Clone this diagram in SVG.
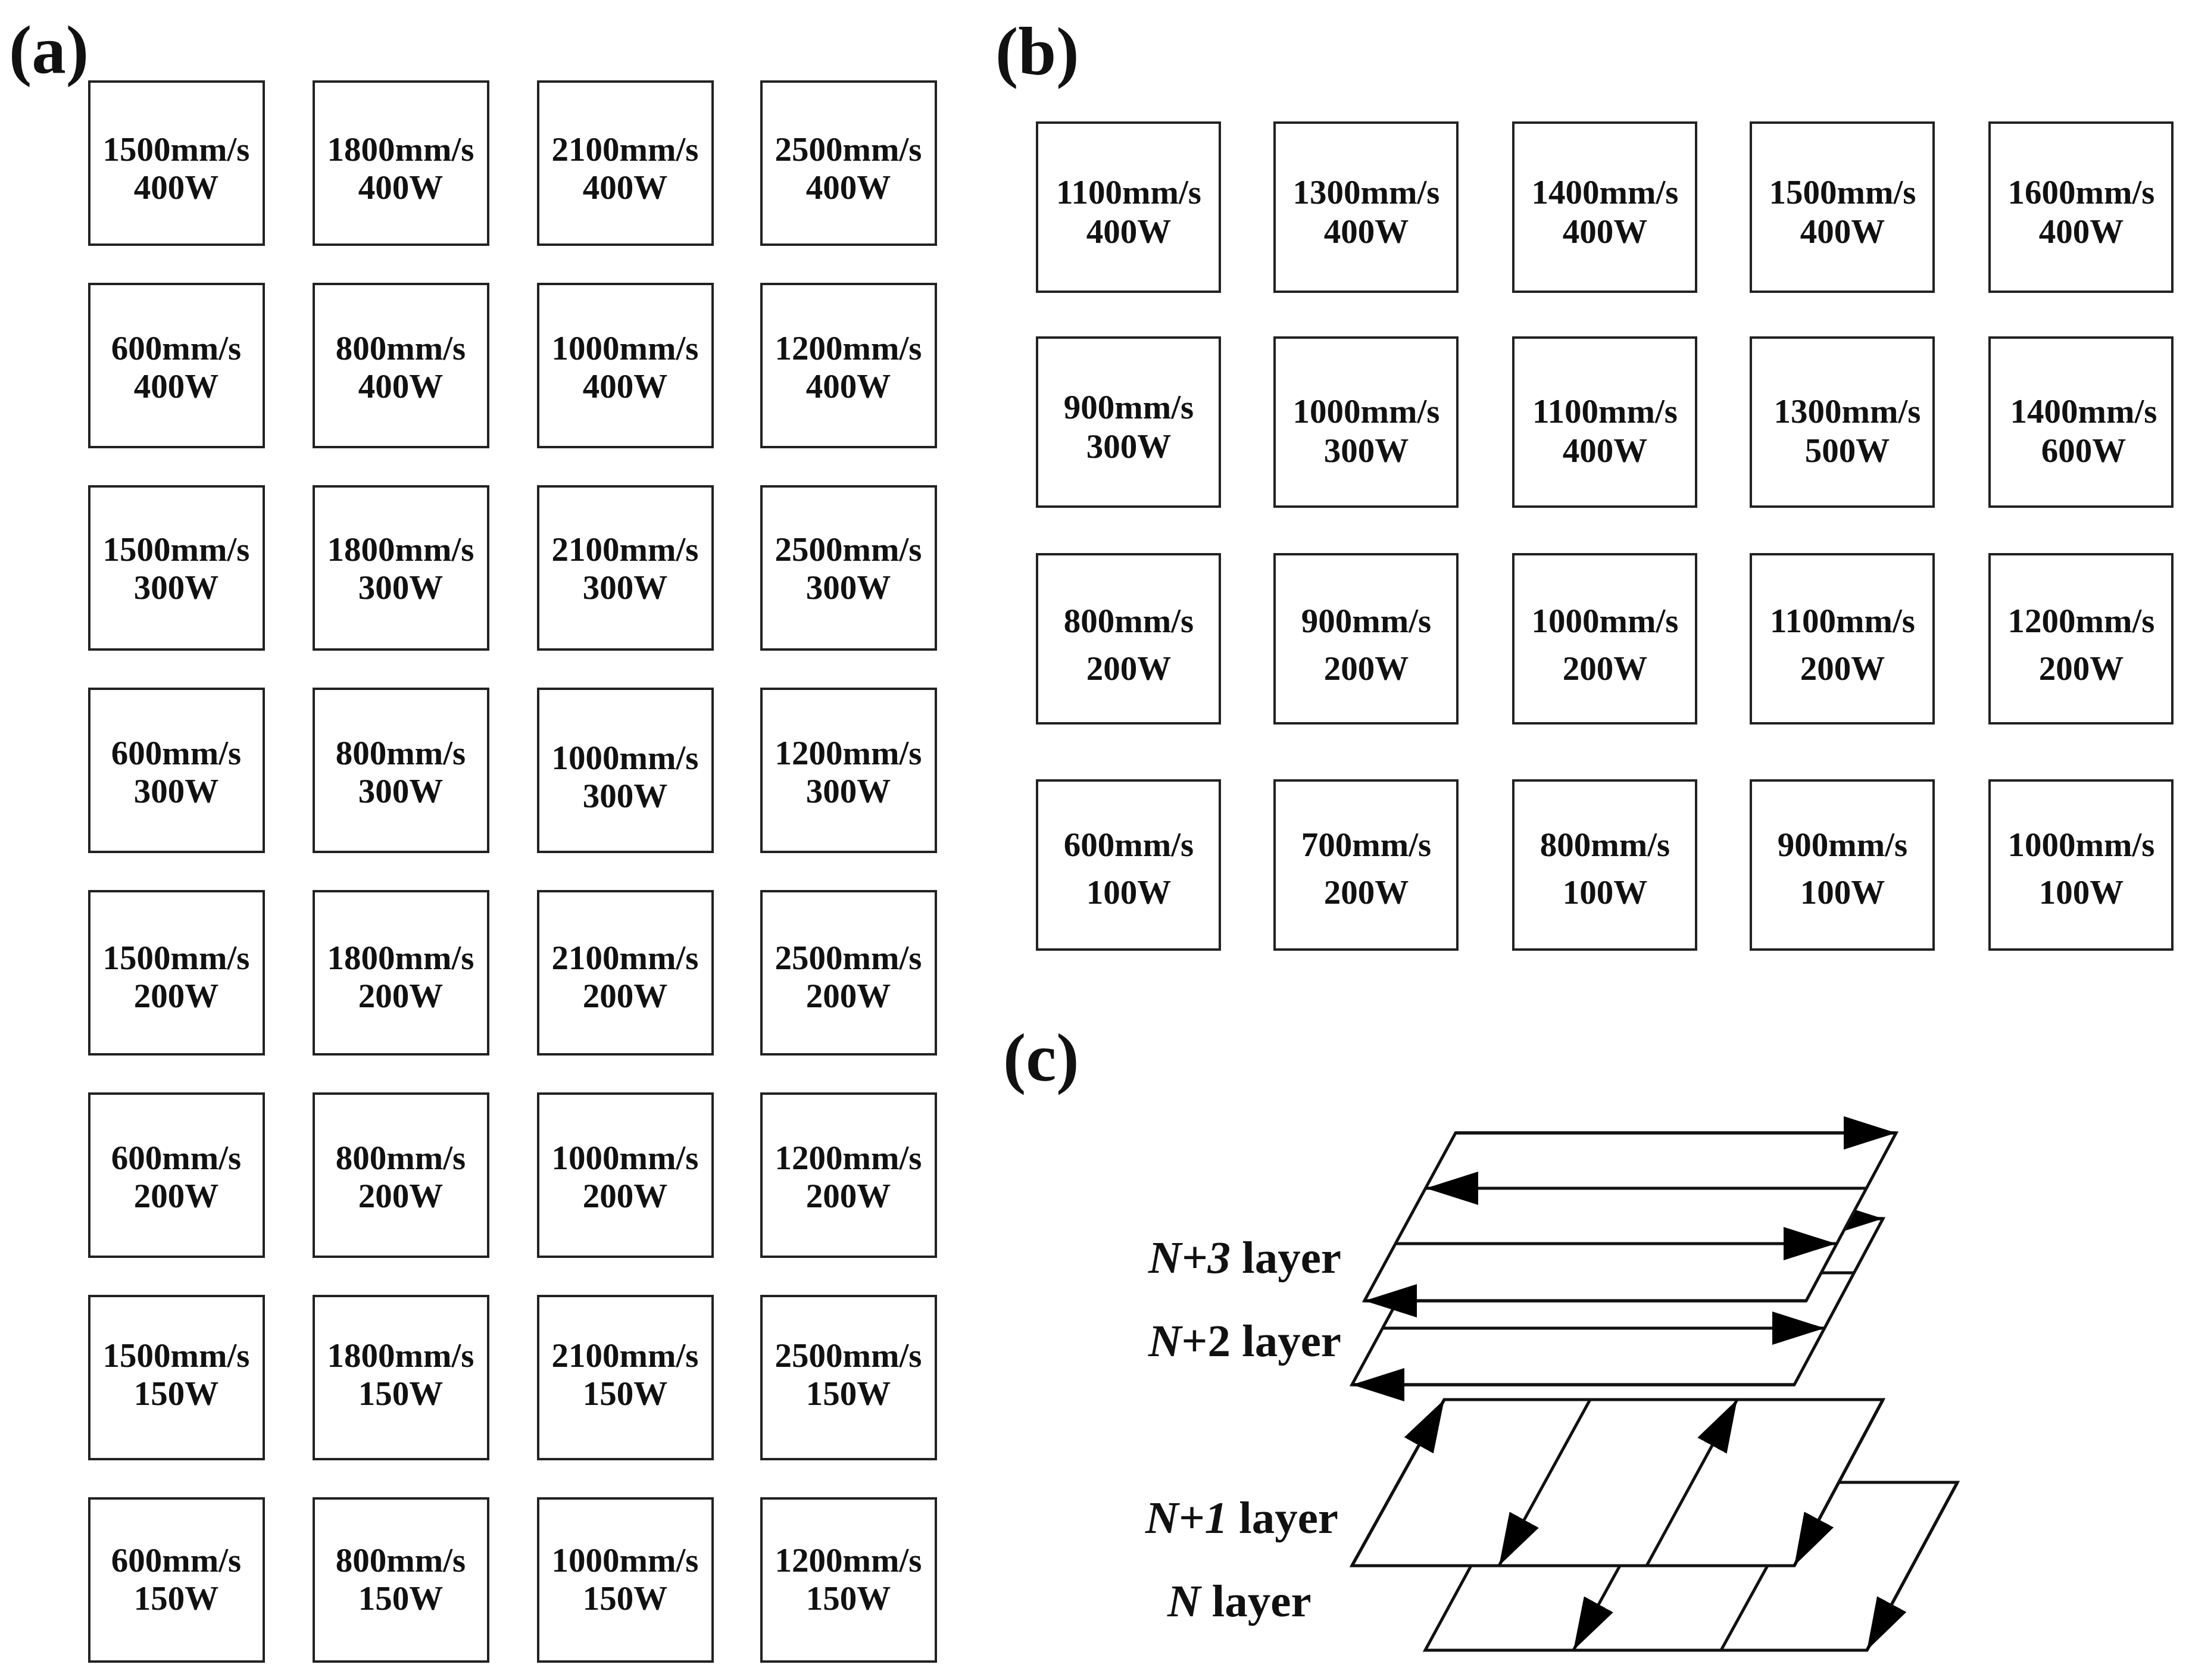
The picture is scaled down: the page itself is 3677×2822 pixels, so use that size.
<svg xmlns="http://www.w3.org/2000/svg" width="3677" height="2822" viewBox="0 0 3677 2822">
<style>
.b{fill:#fff;stroke:#222;stroke-width:4}
.t{font-family:"Liberation Serif",serif;font-weight:bold;font-size:57px;text-anchor:middle;fill:#111}
.lab{font-family:"Liberation Serif",serif;font-weight:bold;font-size:115px;fill:#111}
.ly{font-family:"Liberation Serif",serif;font-weight:bold;font-size:77px;fill:#111}
.p{fill:#fff;stroke:#111;stroke-width:5;stroke-linejoin:miter}
.l{stroke:#111;stroke-width:5;fill:none}
</style>
<defs>
<marker id="ah" markerUnits="userSpaceOnUse" markerWidth="90" markerHeight="60" refX="88" refY="28" orient="auto" viewBox="0 0 90 56">
<path d="M0,0 L88,28 L0,56 Z" fill="#000"/>
</marker>
</defs>
<rect width="3677" height="2822" fill="#fff"/>
<text class="lab" x="15" y="122">(a)</text>
<text class="lab" x="1672" y="125">(b)</text>
<text class="lab" x="1685" y="1815">(c)</text>
<g id="panelA">
<g id="a1"><rect class="b" x="150" y="137" width="293" height="274"/><text class="t" x="296" y="270">1500mm/s</text><text class="t" x="296" y="334">400W</text></g>
<g id="a2"><rect class="b" x="527" y="137" width="293" height="274"/><text class="t" x="673" y="270">1800mm/s</text><text class="t" x="673" y="334">400W</text></g>
<g id="a3"><rect class="b" x="904" y="137" width="293" height="274"/><text class="t" x="1050" y="270">2100mm/s</text><text class="t" x="1050" y="334">400W</text></g>
<g id="a4"><rect class="b" x="1279" y="137" width="293" height="274"/><text class="t" x="1425" y="270">2500mm/s</text><text class="t" x="1425" y="334">400W</text></g>
<g id="a5"><rect class="b" x="150" y="477" width="293" height="274"/><text class="t" x="296" y="604">600mm/s</text><text class="t" x="296" y="668">400W</text></g>
<g id="a6"><rect class="b" x="527" y="477" width="293" height="274"/><text class="t" x="673" y="604">800mm/s</text><text class="t" x="673" y="668">400W</text></g>
<g id="a7"><rect class="b" x="904" y="477" width="293" height="274"/><text class="t" x="1050" y="604">1000mm/s</text><text class="t" x="1050" y="668">400W</text></g>
<g id="a8"><rect class="b" x="1279" y="477" width="293" height="274"/><text class="t" x="1425" y="604">1200mm/s</text><text class="t" x="1425" y="668">400W</text></g>
<g id="a9"><rect class="b" x="150" y="817" width="293" height="274"/><text class="t" x="296" y="942">1500mm/s</text><text class="t" x="296" y="1006">300W</text></g>
<g id="a10"><rect class="b" x="527" y="817" width="293" height="274"/><text class="t" x="673" y="942">1800mm/s</text><text class="t" x="673" y="1006">300W</text></g>
<g id="a11"><rect class="b" x="904" y="817" width="293" height="274"/><text class="t" x="1050" y="942">2100mm/s</text><text class="t" x="1050" y="1006">300W</text></g>
<g id="a12"><rect class="b" x="1279" y="817" width="293" height="274"/><text class="t" x="1425" y="942">2500mm/s</text><text class="t" x="1425" y="1006">300W</text></g>
<g id="a13"><rect class="b" x="150" y="1157" width="293" height="274"/><text class="t" x="296" y="1284">600mm/s</text><text class="t" x="296" y="1348">300W</text></g>
<g id="a14"><rect class="b" x="527" y="1157" width="293" height="274"/><text class="t" x="673" y="1284">800mm/s</text><text class="t" x="673" y="1348">300W</text></g>
<g id="a15"><rect class="b" x="904" y="1157" width="293" height="274"/><text class="t" x="1050" y="1292">1000mm/s</text><text class="t" x="1050" y="1356">300W</text></g>
<g id="a16"><rect class="b" x="1279" y="1157" width="293" height="274"/><text class="t" x="1425" y="1284">1200mm/s</text><text class="t" x="1425" y="1348">300W</text></g>
<g id="a17"><rect class="b" x="150" y="1497" width="293" height="274"/><text class="t" x="296" y="1628">1500mm/s</text><text class="t" x="296" y="1692">200W</text></g>
<g id="a18"><rect class="b" x="527" y="1497" width="293" height="274"/><text class="t" x="673" y="1628">1800mm/s</text><text class="t" x="673" y="1692">200W</text></g>
<g id="a19"><rect class="b" x="904" y="1497" width="293" height="274"/><text class="t" x="1050" y="1628">2100mm/s</text><text class="t" x="1050" y="1692">200W</text></g>
<g id="a20"><rect class="b" x="1279" y="1497" width="293" height="274"/><text class="t" x="1425" y="1628">2500mm/s</text><text class="t" x="1425" y="1692">200W</text></g>
<g id="a21"><rect class="b" x="150" y="1837" width="293" height="274"/><text class="t" x="296" y="1964">600mm/s</text><text class="t" x="296" y="2028">200W</text></g>
<g id="a22"><rect class="b" x="527" y="1837" width="293" height="274"/><text class="t" x="673" y="1964">800mm/s</text><text class="t" x="673" y="2028">200W</text></g>
<g id="a23"><rect class="b" x="904" y="1837" width="293" height="274"/><text class="t" x="1050" y="1964">1000mm/s</text><text class="t" x="1050" y="2028">200W</text></g>
<g id="a24"><rect class="b" x="1279" y="1837" width="293" height="274"/><text class="t" x="1425" y="1964">1200mm/s</text><text class="t" x="1425" y="2028">200W</text></g>
<g id="a25"><rect class="b" x="150" y="2177" width="293" height="274"/><text class="t" x="296" y="2296">1500mm/s</text><text class="t" x="296" y="2360">150W</text></g>
<g id="a26"><rect class="b" x="527" y="2177" width="293" height="274"/><text class="t" x="673" y="2296">1800mm/s</text><text class="t" x="673" y="2360">150W</text></g>
<g id="a27"><rect class="b" x="904" y="2177" width="293" height="274"/><text class="t" x="1050" y="2296">2100mm/s</text><text class="t" x="1050" y="2360">150W</text></g>
<g id="a28"><rect class="b" x="1279" y="2177" width="293" height="274"/><text class="t" x="1425" y="2296">2500mm/s</text><text class="t" x="1425" y="2360">150W</text></g>
<g id="a29"><rect class="b" x="150" y="2517" width="293" height="274"/><text class="t" x="296" y="2640">600mm/s</text><text class="t" x="296" y="2704">150W</text></g>
<g id="a30"><rect class="b" x="527" y="2517" width="293" height="274"/><text class="t" x="673" y="2640">800mm/s</text><text class="t" x="673" y="2704">150W</text></g>
<g id="a31"><rect class="b" x="904" y="2517" width="293" height="274"/><text class="t" x="1050" y="2640">1000mm/s</text><text class="t" x="1050" y="2704">150W</text></g>
<g id="a32"><rect class="b" x="1279" y="2517" width="293" height="274"/><text class="t" x="1425" y="2640">1200mm/s</text><text class="t" x="1425" y="2704">150W</text></g>
</g>
<g id="panelB">
<g id="b1"><rect class="b" x="1742" y="206" width="307" height="284"/><text class="t" x="1896" y="342">1100mm/s</text><text class="t" x="1896" y="408">400W</text></g>
<g id="b2"><rect class="b" x="2141" y="206" width="307" height="284"/><text class="t" x="2295" y="342">1300mm/s</text><text class="t" x="2295" y="408">400W</text></g>
<g id="b3"><rect class="b" x="2542" y="206" width="307" height="284"/><text class="t" x="2696" y="342">1400mm/s</text><text class="t" x="2696" y="408">400W</text></g>
<g id="b4"><rect class="b" x="2941" y="206" width="307" height="284"/><text class="t" x="3095" y="342">1500mm/s</text><text class="t" x="3095" y="408">400W</text></g>
<g id="b5"><rect class="b" x="3342" y="206" width="307" height="284"/><text class="t" x="3496" y="342">1600mm/s</text><text class="t" x="3496" y="408">400W</text></g>
<g id="b6"><rect class="b" x="1742" y="567" width="307" height="284"/><text class="t" x="1896" y="703">900mm/s</text><text class="t" x="1896" y="769">300W</text></g>
<g id="b7"><rect class="b" x="2141" y="567" width="307" height="284"/><text class="t" x="2295" y="710">1000mm/s</text><text class="t" x="2295" y="776">300W</text></g>
<g id="b8"><rect class="b" x="2542" y="567" width="307" height="284"/><text class="t" x="2696" y="710">1100mm/s</text><text class="t" x="2696" y="776">400W</text></g>
<g id="b9"><rect class="b" x="2941" y="567" width="307" height="284"/><text class="t" x="3103" y="710">1300mm/s</text><text class="t" x="3103" y="776">500W</text></g>
<g id="b10"><rect class="b" x="3342" y="567" width="307" height="284"/><text class="t" x="3500" y="710">1400mm/s</text><text class="t" x="3500" y="776">600W</text></g>
<g id="b11"><rect class="b" x="1742" y="931" width="307" height="284"/><text class="t" x="1896" y="1062">800mm/s</text><text class="t" x="1896" y="1142">200W</text></g>
<g id="b12"><rect class="b" x="2141" y="931" width="307" height="284"/><text class="t" x="2295" y="1062">900mm/s</text><text class="t" x="2295" y="1142">200W</text></g>
<g id="b13"><rect class="b" x="2542" y="931" width="307" height="284"/><text class="t" x="2696" y="1062">1000mm/s</text><text class="t" x="2696" y="1142">200W</text></g>
<g id="b14"><rect class="b" x="2941" y="931" width="307" height="284"/><text class="t" x="3095" y="1062">1100mm/s</text><text class="t" x="3095" y="1142">200W</text></g>
<g id="b15"><rect class="b" x="3342" y="931" width="307" height="284"/><text class="t" x="3496" y="1062">1200mm/s</text><text class="t" x="3496" y="1142">200W</text></g>
<g id="b16"><rect class="b" x="1742" y="1311" width="307" height="284"/><text class="t" x="1896" y="1438">600mm/s</text><text class="t" x="1896" y="1518">100W</text></g>
<g id="b17"><rect class="b" x="2141" y="1311" width="307" height="284"/><text class="t" x="2295" y="1438">700mm/s</text><text class="t" x="2295" y="1518">200W</text></g>
<g id="b18"><rect class="b" x="2542" y="1311" width="307" height="284"/><text class="t" x="2696" y="1438">800mm/s</text><text class="t" x="2696" y="1518">100W</text></g>
<g id="b19"><rect class="b" x="2941" y="1311" width="307" height="284"/><text class="t" x="3095" y="1438">900mm/s</text><text class="t" x="3095" y="1518">100W</text></g>
<g id="b20"><rect class="b" x="3342" y="1311" width="307" height="284"/><text class="t" x="3496" y="1438">1000mm/s</text><text class="t" x="3496" y="1518">100W</text></g>
</g>
<g id="panelC">
<g id="layerN">
<polygon class="p" points="2547,2490 3288,2490 3136,2772 2394,2772"/>
<line class="l" x1="2798" y1="2490" x2="2643" y2="2772" marker-end="url(#ah)"/>
<line class="l" x1="3046" y1="2490" x2="2891" y2="2772"/>
<line class="l" x1="3288" y1="2490" x2="3136" y2="2772" marker-end="url(#ah)"/>
</g>
<g id="layerN1">
<polygon class="p" points="2426,2351 3163,2351 3014,2630 2271,2630"/>
<line class="l" x1="2271" y1="2630" x2="2426" y2="2351" marker-end="url(#ah)"/>
<line class="l" x1="2671" y1="2351" x2="2518" y2="2630" marker-end="url(#ah)"/>
<line class="l" x1="2766" y1="2630" x2="2918" y2="2351" marker-end="url(#ah)"/>
<line class="l" x1="3163" y1="2351" x2="3014" y2="2630" marker-end="url(#ah)"/>
</g>
<g id="layerN2">
<polygon class="p" points="2422,2047 3163,2047 3014,2326 2271,2326"/>
<line class="l" x1="2422" y1="2047" x2="3163" y2="2047" marker-end="url(#ah)"/>
<line class="l" x1="2373" y1="2138" x2="3114" y2="2138"/>
<line class="l" x1="2322" y1="2231" x2="3065" y2="2231" marker-end="url(#ah)"/>
<line class="l" x1="3014" y1="2326" x2="2271" y2="2326" marker-end="url(#ah)"/>
</g>
<g id="layerN3">
<polygon class="p" points="2445,1903 3185,1903 3034,2185 2292,2185"/>
<line class="l" x1="2445" y1="1903" x2="3185" y2="1903" marker-end="url(#ah)"/>
<line class="l" x1="3135" y1="1996" x2="2395" y2="1996" marker-end="url(#ah)"/>
<line class="l" x1="2344" y1="2089" x2="3084" y2="2089" marker-end="url(#ah)"/>
<line class="l" x1="3034" y1="2185" x2="2292" y2="2185" marker-end="url(#ah)"/>
</g>
<text class="ly" x="1929" y="2138"><tspan font-style="italic">N+3</tspan> layer</text>
<text class="ly" x="1929" y="2278"><tspan font-style="italic">N</tspan>+2 layer</text>
<text class="ly" x="1924" y="2575"><tspan font-style="italic">N+1</tspan> layer</text>
<text class="ly" x="1961" y="2715"><tspan font-style="italic">N</tspan> layer</text>
</g>
</svg>
